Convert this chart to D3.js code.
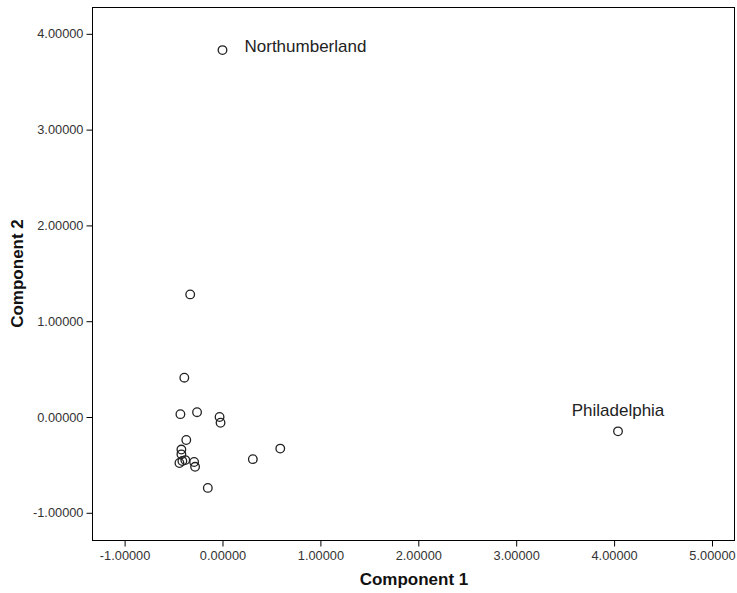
<!DOCTYPE html>
<html><head><meta charset="utf-8">
<script src="https://cdn.jsdelivr.net/npm/d3@7"></script>
<style>body{margin:0;background:#fff;} svg{display:block;}</style>
</head><body>
<script>
const comp1 = [0.00, 4.04, -0.33, -0.39, -0.43, -0.26, -0.03, -0.02, -0.37, -0.42, -0.42, -0.41, -0.38, -0.44, -0.29, -0.28, -0.15, 0.31, 0.59];
const comp2 = [3.83, -0.15, 1.28, 0.41, 0.03, 0.05, -0.00, -0.06, -0.24, -0.34, -0.39, -0.46, -0.45, -0.48, -0.47, -0.52, -0.74, -0.44, -0.33];
const pointLabels = ["Northumberland", "Philadelphia", "", "", "", "", "", "", "", "", "", "", "", "", "", "", "", "", ""];
const xTicks = [-1, 0, 1, 2, 3, 4, 5];
const yTicks = [-1, 0, 1, 2, 3, 4];
const xTitle = "Component 1", yTitle = "Component 2";

const W = 737, H = 593;
const m = {l: 92, r: 2, t: 7, b: 53};
const FONT = "Arial, 'Liberation Sans', sans-serif";
const svg = d3.select("body").append("svg").attr("width", W).attr("height", H);
const x = d3.scaleLinear().domain([-1.333, 5.235]).range([m.l, W - m.r]);
const y = d3.scaleLinear().domain([-1.284, 4.28]).range([H - m.b, m.t]);
const fmt = d => d.toFixed(5);

svg.append("rect").attr("x", m.l + 0.5).attr("y", m.t + 0.5)
  .attr("width", W - m.r - m.l - 1).attr("height", H - m.b - m.t)
  .attr("fill", "none").attr("stroke", "#000");

const gx = svg.append("g").attr("transform", `translate(0,${H - m.b + 0.5})`)
  .call(d3.axisBottom(x).tickValues(xTicks).tickFormat(fmt).tickSize(6).tickPadding(4));
const gy = svg.append("g").attr("transform", `translate(${m.l + 0.5},0)`)
  .call(d3.axisLeft(y).tickValues(yTicks).tickFormat(fmt).tickSize(6).tickPadding(3));
[gx, gy].forEach(g => {
  g.select(".domain").remove();
  g.selectAll("line").attr("stroke", "#000");
  g.selectAll("text").attr("fill", "#333").style("font-family", FONT).style("font-size", "12.8px");
});

svg.append("text").attr("x", 414).attr("y", 585)
  .attr("text-anchor", "middle").style("font-family", FONT)
  .style("font-size", "17px").style("font-weight", "bold").attr("fill", "#111").text(xTitle);
svg.append("text").attr("transform", `translate(23,${(m.t + H - m.b) / 2}) rotate(-90)`)
  .attr("text-anchor", "middle").style("font-family", FONT)
  .style("font-size", "17px").style("font-weight", "bold").attr("fill", "#111").text(yTitle);

const data = comp1.map((v, i) => ({x: v, y: comp2[i], label: pointLabels[i]}));
svg.append("g").selectAll("circle").data(data).join("circle")
  .attr("cx", d => x(d.x)).attr("cy", d => y(d.y)).attr("r", 4.3)
  .attr("fill", "none").attr("stroke", "#222").attr("stroke-width", 1.3);

svg.append("text").attr("x", x(comp1[0]) + 22).attr("y", y(comp2[0]) + 2)
  .style("font-family", FONT).style("font-size", "17px")
  .attr("fill", "#222").text(pointLabels[0]);
svg.append("text").attr("x", x(comp1[1])).attr("y", y(comp2[1]) - 15)
  .attr("text-anchor", "middle")
  .style("font-family", FONT).style("font-size", "17px")
  .attr("fill", "#222").text(pointLabels[1]);
</script>
</body></html>
